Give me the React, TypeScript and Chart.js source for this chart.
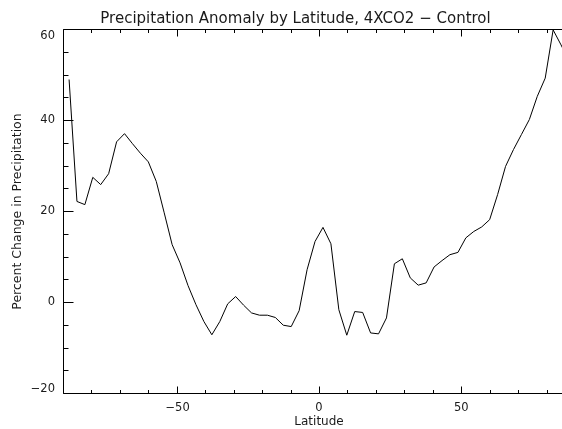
import React, { useEffect, useRef } from "react";
import { Chart, registerables } from "chart.js";

Chart.register(...registerables);

const latitudes = [
  -87.86, -85.1, -82.31, -79.53, -76.74, -73.95, -71.16, -68.37, -65.58, -62.79,
  -60.0, -57.21, -54.42, -51.63, -48.84, -46.04, -43.25, -40.46, -37.67, -34.88,
  -32.09, -29.3, -26.51, -23.72, -20.93, -18.14, -15.35, -12.56, -9.77, -6.98,
  -4.19, -1.4, 1.4, 4.19, 6.98, 9.77, 12.56, 15.35, 18.14, 20.93,
  23.72, 26.51, 29.3, 32.09, 34.88, 37.67, 40.46, 43.25, 46.04, 48.84,
  51.63, 54.42, 57.21, 60.0, 62.79, 65.58, 68.37, 71.16, 73.95, 76.74,
  79.53, 82.31, 85.1, 87.86,
];

const precipChange = [
  48.9, 22.1, 21.4, 27.4, 25.8, 28.2, 35.2, 37.0, 34.8, 32.7,
  30.8, 26.5, 19.6, 12.6, 8.6, 3.6, -0.6, -4.3, -7.2, -4.3,
  -0.4, 1.2, -0.7, -2.4, -2.9, -2.9, -3.4, -5.1, -5.4, -1.9,
  7.1, 13.3, 16.4, 12.8, -1.7, -7.3, -2.1, -2.3, -6.8, -7.0,
  -3.5, 8.4, 9.5, 5.3, 3.7, 4.2, 7.7, 9.1, 10.4, 10.9,
  14.1, 15.5, 16.5, 18.1, 23.6, 29.8, 33.5, 36.8, 40.1, 45.2,
  49.2, 59.8, 56.5, 53.0,
];

const xTickLabels = [-50, 0, 50];
const yTickLabels = [-20, 0, 20, 40, 60];

const TITLE = "Precipitation Anomaly by Latitude, 4XCO2 \u2212 Control";
const X_TITLE = "Latitude";
const Y_TITLE = "Percent Change in Precipitation";

const FONT = '"DejaVu Sans", sans-serif';
const TEXT_COLOR = "#1a1a1a";

const fmt = (v: number) => (v < 0 ? "\u2212" + Math.abs(v) : String(v));

const idlAxes = {
  id: "idlAxes",
  afterDraw(chart: any) {
    const ctx = chart.ctx as CanvasRenderingContext2D;
    const { left, right, top, bottom } = chart.chartArea;
    const xs = chart.scales.x;
    const ys = chart.scales.y;
    ctx.save();
    ctx.strokeStyle = "#000";
    ctx.lineWidth = 1;
    const L = Math.round(left) + 0.5;
    const R = Math.round(right) + 0.5;
    const T = Math.round(top) + 0.5;
    const B = Math.round(bottom) + 0.5;
    ctx.beginPath();
    ctx.moveTo(L, T);
    ctx.lineTo(R, T);
    ctx.lineTo(R, B);
    ctx.lineTo(L, B);
    ctx.closePath();
    ctx.stroke();

    ctx.beginPath();
    for (let v = xs.min; v <= xs.max + 1e-6; v += 10) {
      const px = Math.round(xs.getPixelForValue(v)) + 0.5;
      const len = Math.abs(v % 50) < 1e-6 ? 7 : 3.5;
      ctx.moveTo(px, B);
      ctx.lineTo(px, B - len);
      ctx.moveTo(px, T);
      ctx.lineTo(px, T + len);
    }
    for (let v = ys.min; v <= ys.max + 1e-6; v += 5) {
      const py = Math.round(ys.getPixelForValue(v)) + 0.5;
      const len = Math.abs(v % 20) < 1e-6 ? 10 : 5;
      ctx.moveTo(L, py);
      ctx.lineTo(L + len, py);
      ctx.moveTo(R, py);
      ctx.lineTo(R - len, py);
    }
    ctx.stroke();

    ctx.fillStyle = TEXT_COLOR;
    ctx.font = "11.5px " + FONT;
    ctx.textAlign = "center";
    ctx.textBaseline = "middle";
    for (const v of xTickLabels) {
      const px = xs.getPixelForValue(v);
      ctx.fillText(fmt(v), px + (v < 0 ? 0.8 : 0), bottom + 15);
    }
    ctx.textAlign = "right";
    for (const v of yTickLabels) {
      let py = ys.getPixelForValue(v);
      py = Math.max(py, top + 7.5);
      py = Math.min(py, bottom - 4);
      ctx.fillText(fmt(v), left - 8, py);
    }

    ctx.textAlign = "center";
    ctx.textBaseline = "alphabetic";
    ctx.font = "15px " + FONT;
    ctx.fillText(TITLE, 295.5, 23);

    ctx.font = "12px " + FONT;
    ctx.textBaseline = "middle";
    ctx.fillText(X_TITLE, xs.getPixelForValue(0), 422);

    ctx.font = "12.5px " + FONT;
    ctx.translate(18, 211.5);
    ctx.rotate(-Math.PI / 2);
    ctx.fillText(Y_TITLE, 0, 0);
    ctx.restore();
  },
};

export default function App() {
  const ref = useRef<HTMLCanvasElement | null>(null);

  useEffect(() => {
    if (!ref.current) return;
    const chart = new Chart(ref.current, {
      type: "line",
      data: {
        datasets: [
          {
            data: latitudes.map((lat, i) => ({ x: lat, y: precipChange[i] })),
            borderColor: "#000",
            borderWidth: 1,
            pointRadius: 0,
            tension: 0,
            fill: false,
          },
        ],
      },
      options: {
        animation: false,
        responsive: false,
        layout: { padding: { top: 29, right: 25, left: 0, bottom: 0 } },
        plugins: {
          legend: { display: false },
          tooltip: { enabled: false },
          title: { display: false },
        },
        scales: {
          x: {
            type: "linear",
            min: -90,
            max: 90,
            grid: { display: false },
            border: { display: false },
            ticks: { display: false },
            afterFit: (s: any) => {
              s.height = 36;
            },
          },
          y: {
            type: "linear",
            min: -20,
            max: 60,
            grid: { display: false },
            border: { display: false },
            ticks: { display: false },
            afterFit: (s: any) => {
              s.width = 63;
            },
          },
        },
      },
      plugins: [idlAxes],
    } as any);
    return () => chart.destroy();
  }, []);

  return (
    <div
      style={{
        position: "absolute",
        left: 0,
        top: 0,
        width: 562,
        height: 429,
        overflow: "hidden",
        background: "#fff",
      }}
    >
      <canvas ref={ref} width={600} height={429} style={{ display: "block" }} />
    </div>
  );
}
